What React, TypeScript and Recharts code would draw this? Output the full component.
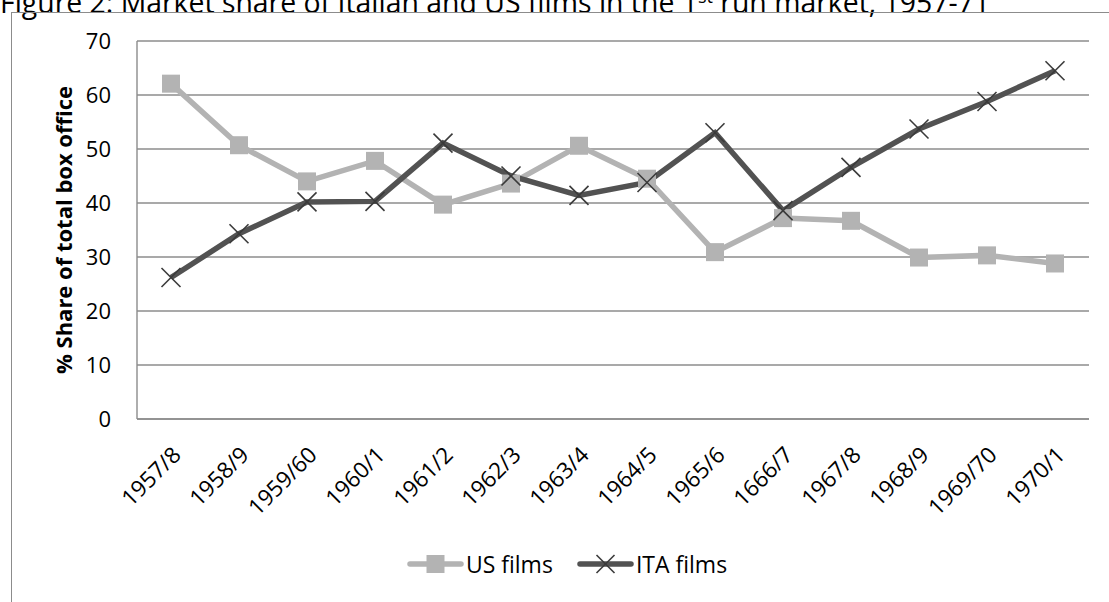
import { LineChart, Line, XAxis, YAxis, CartesianGrid, Legend, Label } from 'recharts';

const periods = [
  '1957/8', '1958/9', '1959/60', '1960/1', '1961/2', '1962/3', '1963/4',
  '1964/5', '1965/6', '1666/7', '1967/8', '1968/9', '1969/70', '1970/1',
];
const usFilms = [62.1, 50.7, 44.0, 47.8, 39.7, 43.6, 50.6, 44.5, 30.9, 37.2, 36.7, 29.9, 30.3, 28.8];
const itaFilms = [26.2, 34.3, 40.2, 40.3, 51.1, 45.0, 41.4, 43.8, 53.0, 38.6, 46.6, 53.7, 58.8, 64.5];
const yTicks = [0, 10, 20, 30, 40, 50, 60, 70];

const data = periods.map((p, i) => ({ period: p, us: usFilms[i], ita: itaFilms[i] }));

const FONT = '"Open Sans", sans-serif';
const US_COLOR = '#b3b3b3';
const ITA_COLOR = '#525252';
const GRID = '#8c8c8c';

function SquareDot(props: any) {
  const { cx, cy, index } = props;
  if (cx == null || cy == null) return null;
  return <rect key={`us-${index}`} x={cx - 9} y={cy - 9} width={18} height={18} fill={US_COLOR} />;
}

function CrossDot(props: any) {
  const { cx, cy, index } = props;
  if (cx == null || cy == null) return null;
  const s = 9.5;
  return (
    <g key={`ita-${index}`} stroke="#3a3a3a" strokeWidth={1.6}>
      <line x1={cx - s} y1={cy - s} x2={cx + s} y2={cy + s} />
      <line x1={cx - s} y1={cy + s} x2={cx + s} y2={cy - s} />
    </g>
  );
}

function LegendContent() {
  const item = (label: string, color: string, marker: 'square' | 'cross') => (
    <span style={{ display: 'inline-flex', alignItems: 'center', margin: '0 12px' }}>
      <svg width={57} height={24} style={{ overflow: 'visible' }}>
        <line x1={3} y1={12} x2={54} y2={12} stroke={color} strokeWidth={5.5} strokeLinecap="round" />
        {marker === 'square' ? (
          <rect x={19.5} y={3} width={18} height={18} fill={color} />
        ) : (
          <g stroke="#3a3a3a" strokeWidth={1.6}>
            <line x1={19.5} y1={3} x2={37.5} y2={21} />
            <line x1={19.5} y1={21} x2={37.5} y2={3} />
          </g>
        )}
      </svg>
      <span style={{ fontFamily: FONT, fontSize: 23, color: '#000', marginLeft: 2 }}>{label}</span>
    </span>
  );
  return (
    <div style={{ height: 52, paddingTop: 2, textAlign: 'center', lineHeight: '28px' }}>
      {item('US films', US_COLOR, 'square')}
      {item('ITA films', ITA_COLOR, 'cross')}
    </div>
  );
}

function YTitle(props: any) {
  const { viewBox } = props;
  const x = viewBox.x + 72;
  const y = viewBox.y + viewBox.height / 2;
  return (
    <text
      x={x}
      y={y}
      transform={`rotate(-90, ${x}, ${y})`}
      textAnchor="middle"
      fontFamily={FONT}
      fontSize={22}
      fontWeight="bold"
      fill="#000"
    >
      % Share of total box office
    </text>
  );
}

export default function App() {
  return (
    <div style={{ position: 'absolute', left: 0, top: 0, width: 1109, height: 602, overflow: 'hidden', background: '#fff' }}>
      <div
        style={{
          position: 'absolute',
          left: 0,
          top: -18,
          fontFamily: FONT,
          fontSize: 28.4,
          lineHeight: '28.4px',
          whiteSpace: 'nowrap',
          color: '#000',
        }}
      >
        Figure 2: Market share of Italian and US films in the 1<sup style={{ fontSize: 18 }}>st</sup> run market, 1957-71
      </div>
      <div
        style={{
          position: 'absolute',
          left: 11,
          top: 12,
          width: 1200,
          height: 700,
          border: `1.5px solid ${GRID}`,
        }}
      />
      <div style={{ position: 'absolute', left: 0, top: 0 }}>
        <LineChart width={1109} height={602} data={data} margin={{ top: 41, right: 20, bottom: 0, left: 0 }}>
          <CartesianGrid vertical={false} stroke={GRID} strokeWidth={1.4} />
          <XAxis
            dataKey="period"
            interval={0}
            tickLine={false}
            padding={{ left: 34, right: 34 }}
            axisLine={{ stroke: GRID, strokeWidth: 1.4 }}
            angle={-45}
            textAnchor="end"
            tickMargin={20}
            height={129}
            tick={{ fontFamily: FONT, fontSize: 22.5, fill: '#000' }}
          />
          <YAxis
            domain={[0, 70]}
            ticks={yTicks}
            width={137}
            tickLine={false}
            tickMargin={20}
            axisLine={{ stroke: GRID, strokeWidth: 1.4 }}
            tick={{ fontFamily: FONT, fontSize: 22, fill: '#000' }}
          >
            <Label content={<YTitle />} />
          </YAxis>
          <Legend
            verticalAlign="bottom"
            align="center"
            content={<LegendContent />}
            wrapperStyle={{ left: 0, width: 1134 }}
          />
          <Line
            dataKey="us"
            name="US films"
            stroke={US_COLOR}
            strokeWidth={5.5}
            dot={SquareDot}
            activeDot={false}
            isAnimationActive={false}
          />
          <Line
            dataKey="ita"
            name="ITA films"
            stroke={ITA_COLOR}
            strokeWidth={5.5}
            dot={CrossDot}
            activeDot={false}
            isAnimationActive={false}
          />
        </LineChart>
      </div>
    </div>
  );
}
